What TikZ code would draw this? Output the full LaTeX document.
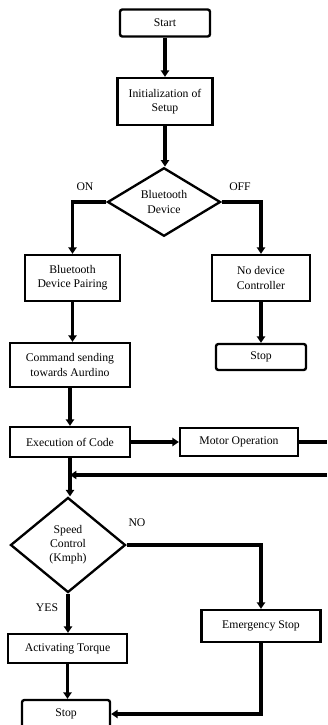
\documentclass[tikz,border=0pt]{standalone}
\usepackage{fontspec}
\setmainfont{Liberation Serif}
\usetikzlibrary{shapes.geometric,arrows.meta}
\tikzset{>={Triangle[width=7pt,length=5.5pt]}}
\tikzset{box/.style={draw,line width=2pt,align=center,inner sep=1pt,font=\fontsize{10}{12}\selectfont},
  term/.style={box,rounded corners=2pt},
  decide/.style={draw,line width=2pt,diamond,align=center,inner sep=0pt,font=\fontsize{10}{12}\selectfont},
  flow/.style={line width=3pt,->},
  lab/.style={font=\fontsize{10}{12}\selectfont}}
\begin{document}
\begin{tikzpicture}[x=0.03cm,y=-0.03cm]
    \clip (0,0) rectangle (327,725);
    \useasboundingbox (0,0) rectangle (327,725);
      \node[term,minimum width=2.7cm,minimum height=0.81cm] (start) at (165,23) {Start};
      \node[box,minimum width=2.85cm,minimum height=1.41cm] (init) at (165,101.5) {Initialization of\\Setup};
      \node[decide,minimum width=3.39cm,minimum height=2.04cm] (bt) at (164,202) {Bluetooth\\Device};
      \node[box,minimum width=2.85cm,minimum height=1.38cm] (pair) at (72.5,278) {Bluetooth\\Device Pairing};
      \node[box,minimum width=2.94cm,minimum height=1.38cm] (nodev) at (261,278) {No device\\Controller};
      \node[term,minimum width=2.7cm,minimum height=0.78cm] (stopA) at (261,357) {Stop};
      \node[box,minimum width=3.6cm,minimum height=1.32cm] (cmd) at (70,365) {Command sending\\towards Aurdino};
      \node[box,minimum width=3.6cm,minimum height=0.9cm] (exec) at (70,442) {Execution of Code};
      \node[box,minimum width=3.54cm,minimum height=0.84cm] (motor) at (239,442) {Motor Operation};
      \node[decide,minimum width=3.45cm,minimum height=2.85cm] (speed) at (68,545) {Speed\\Control\\(Kmph)};
      \node[box,minimum width=3.57cm,minimum height=0.96cm] (emerg) at (261,626) {Emergency Stop};
      \node[box,minimum width=3.57cm,minimum height=0.87cm] (torque) at (67.5,648.5) {Activating Torque};
      \node[term,minimum width=2.64cm,minimum height=0.84cm] (stopB) at (66,714) {Stop};
      % branch labels
      \node[lab] (on) at (85,187) {ON};
      \node[lab] (off) at (240,187) {OFF};
      \node[lab] (no) at (137,523) {NO};
      \node[lab] (yes) at (47,608) {YES};
      % loop back from the motor
      \coordinate (edgeA) at (327,442);
      \coordinate (edgeB) at (327,475);
      \coordinate (jn) at (70,475);
      \draw[flow] (start) -- (init);
      \draw[flow] (init.south) -- (init.south |- bt.north);
      \draw[flow] (bt.west) -| (pair.north);
      \draw[flow] (bt.east) -| (nodev.north);
      \draw[flow] (nodev) -- (stopA);
      \draw[flow] (pair.south) -- (pair.south |- cmd.north);
      \draw[flow] (cmd) -- (exec);
      \draw[flow] (exec) -- (motor);
      \draw[line width=3pt] (motor.east) -- (edgeA);
      \draw[flow] (edgeB) -- (jn);
      \draw[flow] (exec.south) -- (exec.south |- speed.north);
      \draw[flow] (speed.east) -| (emerg.north);
      \draw[flow] (speed.south) -- (speed.south |- torque.north);
      \draw[flow] (torque.south) -- (torque.south |- stopB.north);
      \draw[flow] (emerg.south) |- (stopB.east);
    \end{tikzpicture}
\end{document}
